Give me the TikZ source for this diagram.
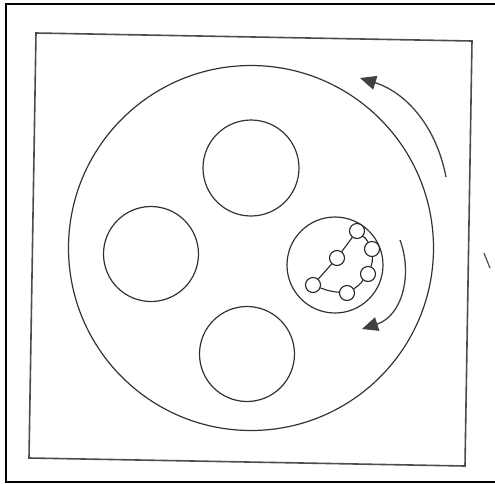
\documentclass[tikz,border=0pt]{standalone}
\usetikzlibrary{arrows.meta}
\begin{document}
\begin{tikzpicture}[x=0.5pt,y=-0.5pt,
  ring/.style={circle,draw=black!80,line width=0.6pt,inner sep=0pt},
  bead/.style={circle,draw=black!85,line width=0.55pt,inner sep=0pt,minimum size=7.5pt,fill=white},
  link/.style={draw=black!85,line width=0.55pt},
  flow/.style={draw=black!75,line width=0.65pt,-{Triangle[length=8pt,width=7pt]}}]
\useasboundingbox (0,0) rectangle (495,484);
% outer frame
\draw[line width=0.7pt] (495,4) -- (6,4) -- (6,482) -- (495,482);
% inner square
\draw[black!70,line width=0.8pt] (36,33) coordinate (q1) -- (472,41) coordinate (q2) -- (465,466) coordinate (q3) -- (29,458) coordinate (q4) -- cycle;
% big disc
\node[ring,minimum size=182.5pt] (big) at (251,248) {};
% four holes
\node[ring,minimum size=48pt] (top) at (251,168) {};
\node[ring,minimum size=47.5pt] (left) at (151,254) {};
\node[ring,minimum size=47.5pt] (bot) at (247,354) {};
\node[ring,minimum size=48pt] (right) at (335,265) {};
% beads
\node[bead] (b1) at (357,231) {};
\node[bead] (b2) at (372,249) {};
\node[bead] (b3) at (337,258) {};
\node[bead] (b4) at (368,274) {};
\node[bead] (b5) at (313,285) {};
\node[bead] (b6) at (347,293) {};
\draw[link] (b5) -- (b3);
\draw[link] (b3) -- (b1);
\draw[link] (b1) to[bend left=10] (b2);
\draw[link] (b2) to[bend left=12] (b4);
\draw[link] (b4) to[bend left=10] (b6);
\draw[link] (b6) to[bend left=8] (b5);
% rotation arrows
\coordinate (u0) at (446,177);
\coordinate (u1) at (360,78);
\draw[flow] (u0) .. controls (436,125) and (405,92) .. (u1);
\coordinate (l0) at (400,240);
\coordinate (l1) at (362,329);
\draw[flow] (l0) .. controls (413,275) and (402,316) .. (l1);
% small mark at right
\coordinate (m0) at (484,253);
\coordinate (m1) at (490,268);
\draw[black!70,line width=0.6pt] (m0) -- (m1);
\end{tikzpicture}
\end{document}
